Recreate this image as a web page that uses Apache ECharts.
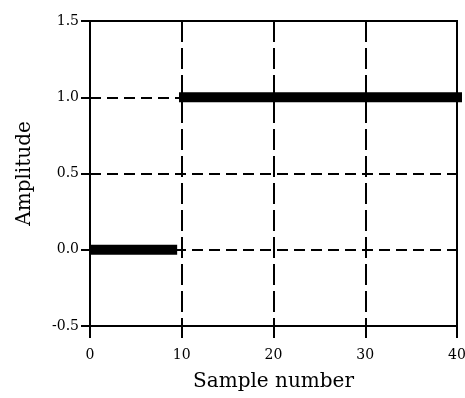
<!DOCTYPE html>
<html><head><meta charset="utf-8">
<script src="https://cdn.jsdelivr.net/npm/echarts@6/dist/echarts.min.js"></script>
<style>html,body{margin:0;padding:0;background:#fff;overflow:hidden}#c{width:465px;height:398px}</style>
</head><body><div id="c"></div>
<script>
const xTicks = [0, 10, 20, 30, 40];
const yTicks = [-0.5, 0.0, 0.5, 1.0, 1.5];
const lowSegmentX = [0, 9.5];
const lowSegmentY = [0, 0];
const highSegmentX = [9.7, 40.6];
const highSegmentY = [1, 1];
const xTitle = 'Sample number';
const yTitle = 'Amplitude';

const font = 'DejaVu Serif';
const chart = echarts.init(document.getElementById('c'), null, {renderer: 'canvas'});
const pair = (xs, ys) => xs.map((x, i) => [x, ys[i]]);
chart.setOption({
  animation: false,
  backgroundColor: '#fff',
  grid: {left: 90, right: 8, top: 21, bottom: 72, outerBoundsMode: 'none', containLabel: false, show: true, borderColor: '#000', borderWidth: 2, backgroundColor: 'transparent'},
  xAxis: {
    type: 'value', min: xTicks[0], max: xTicks[xTicks.length - 1], interval: 10,
    name: xTitle, nameLocation: 'middle', nameGap: 46,
    nameTextStyle: {fontFamily: font, fontSize: 20, color: '#000'},
    axisLine: {show: true, onZero: false, lineStyle: {color: '#000', width: 2}},
    axisTick: {show: true, length: 12, lineStyle: {color: '#000', width: 2}},
    axisLabel: {fontFamily: font, fontSize: 14, color: '#000', margin: 22, formatter: v => String(v)},
    splitLine: {show: true, lineStyle: {color: '#000', width: 2, type: [21, 6]}}
  },
  yAxis: {
    type: 'value', min: yTicks[0], max: yTicks[yTicks.length - 1], interval: 0.5,
    name: yTitle, nameLocation: 'middle', nameGap: 55, nameRotate: 90,
    nameTextStyle: {fontFamily: font, fontSize: 20, color: '#000'},
    axisLine: {show: true, onZero: false, lineStyle: {color: '#000', width: 2}},
    axisTick: {show: true, length: 9, lineStyle: {color: '#000', width: 2}},
    axisLabel: {fontFamily: font, fontSize: 14, color: '#000', margin: 11, formatter: v => v.toFixed(1)},
    splitLine: {show: true, lineStyle: {color: '#000', width: 2, type: [11, 6]}}
  },
  series: [
    {type: 'line', data: pair(lowSegmentX, lowSegmentY), showSymbol: false, clip: false, lineStyle: {color: '#000', width: 10, cap: 'butt'}, z: 5},
    {type: 'line', data: pair(highSegmentX, highSegmentY), showSymbol: false, clip: false, lineStyle: {color: '#000', width: 10, cap: 'butt'}, z: 5}
  ]
});
</script></body></html>
